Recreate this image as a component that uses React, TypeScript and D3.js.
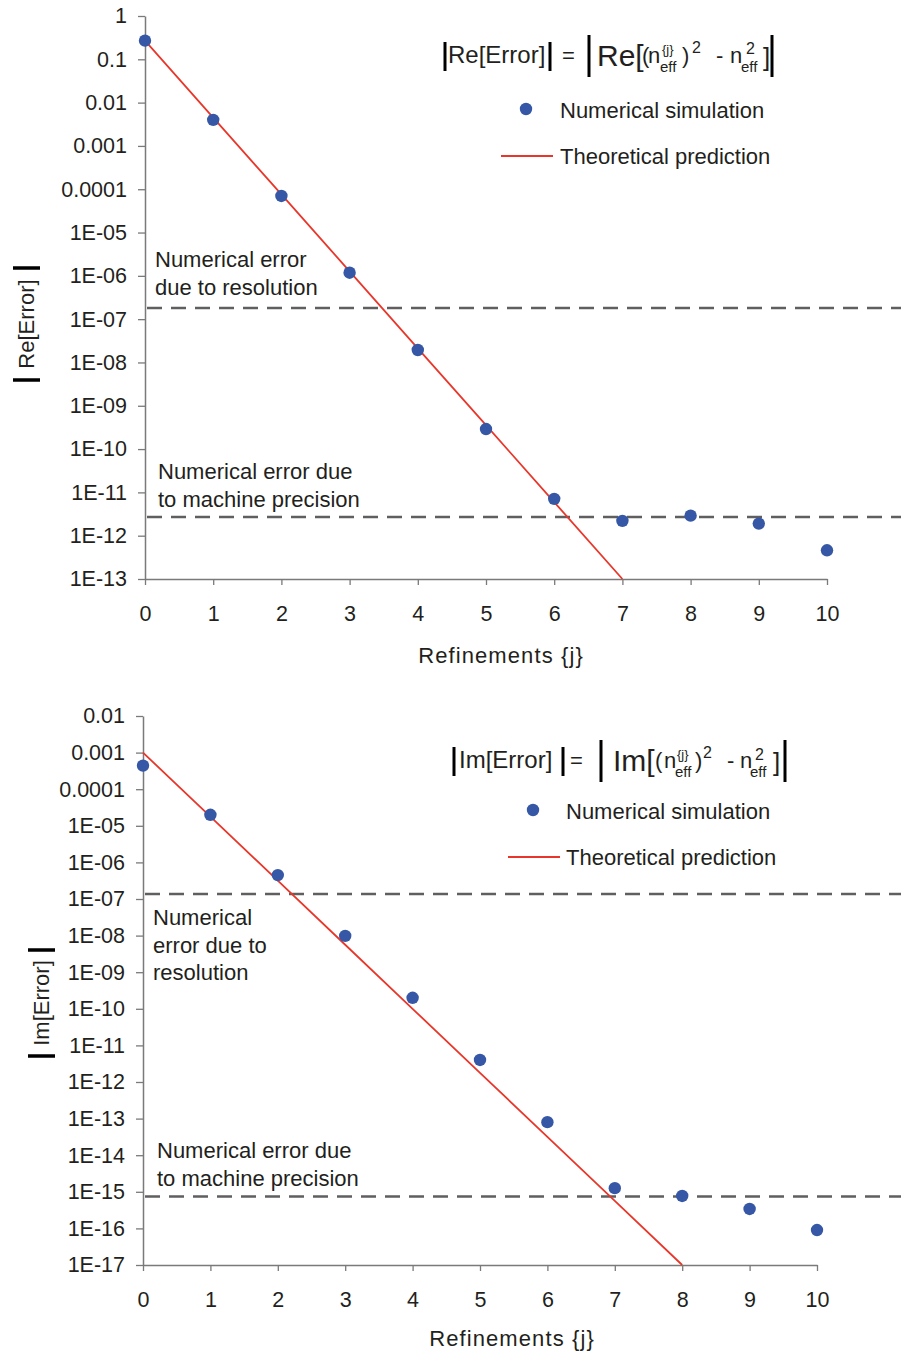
import React, { useEffect, useRef } from 'react';
import * as d3 from 'd3';

// refinement steps {j}
const refinements = [0, 1, 2, 3, 4, 5, 6, 7, 8, 9, 10];

// |Re[Error]| panel
const reSimulation = [0.27, 4e-3, 7e-5, 1.18e-6, 1.94e-8, 2.9e-10, 7.1e-12, 2.2e-12, 2.9e-12, 1.9e-12, 4.6e-13];
const reTheory = [0.27, 4.5e-3, 7.6e-5, 1.27e-6, 2.12e-8, 3.56e-10, 5.97e-12, 1e-13];
const reThresholds = [1.8e-7, 2.7e-12];
const reTicks = [1, 0.1, 0.01, 1e-3, 1e-4, 1e-5, 1e-6, 1e-7, 1e-8, 1e-9, 1e-10, 1e-11, 1e-12, 1e-13];
const reTickLabels = ['1', '0.1', '0.01', '0.001', '0.0001', '1E-05', '1E-06', '1E-07', '1E-08', '1E-09', '1E-10', '1E-11', '1E-12', '1E-13'];

// |Im[Error]| panel
const imSimulation = [4.4e-4, 2e-5, 4.5e-7, 9.8e-9, 2e-10, 4e-12, 8e-14, 1.26e-15, 7.7e-16, 3.4e-16, 9e-17];
const imTheory = [1e-3, 1.78e-5, 3.16e-7, 5.62e-9, 1e-10, 1.78e-12, 3.16e-14, 5.62e-16, 1e-17];
const imThresholds = [1.37e-7, 7.4e-16];
const imTicks = [1e-2, 1e-3, 1e-4, 1e-5, 1e-6, 1e-7, 1e-8, 1e-9, 1e-10, 1e-11, 1e-12, 1e-13, 1e-14, 1e-15, 1e-16, 1e-17];
const imTickLabels = ['0.01', '0.001', '0.0001', '1E-05', '1E-06', '1E-07', '1E-08', '1E-09', '1E-10', '1E-11', '1E-12', '1E-13', '1E-14', '1E-15', '1E-16', '1E-17'];

const FONT = '"Liberation Sans", Arial, sans-serif';
const INK = '#231f20';
const AXIS = '#7a7a7a';
const DOT = '#3557a5';
const RED = '#e8372a';
const DASH = '#5f5f5f';

// pieces of the legend formula: [text, x, y, size] and bars [x, y0, y1]
const reFormula = {
  texts: [
    ['Re[Error]', 448, 63, 24], ['=', 562, 63, 22], ['Re[', 597, 66, 30], ['(', 642, 63, 22],
    ['n', 648, 63, 22], ['eff', 660, 72, 15], ['{j}', 662, 54, 13], [')', 682, 63, 22],
    ['2', 692, 53, 16], ['-', 716, 63, 22], ['n', 730, 63, 22], ['eff', 741, 72, 15],
    ['2', 746, 54, 16], [']', 763, 66, 26],
  ],
  bars: [[445, 42, 71], [550, 42, 71], [589, 35, 77], [772, 35, 77]],
};
const imFormula = {
  texts: [
    ['Im[Error]', 459, 768, 24], ['=', 570, 768, 22], ['Im[', 613, 771, 30], ['(', 655, 768, 22],
    ['n', 664, 768, 22], ['eff', 675, 777, 15], ['{j}', 677, 759, 13], [')', 695, 768, 22],
    ['2', 703, 758, 16], ['-', 727, 768, 22], ['n', 740, 768, 22], ['eff', 750, 777, 15],
    ['2', 755, 760, 16], [']', 773, 771, 26],
  ],
  bars: [[454, 747, 776], [563, 747, 776], [601, 740, 782], [785, 740, 782]],
};

const panels = [
  {
    sim: reSimulation, theory: reTheory, thresholds: reThresholds,
    ticks: reTicks, tickLabels: reTickLabels,
    x0: 145, x1: 827, y0: 16, y1: 579,
    formula: reFormula,
    legend: { dotX: 526, dotY: 109, lineX0: 501, lineX1: 553, lineY: 156, textX: 560, simY: 118, thY: 164 },
    notes: [
      { x: 155, ys: [267, 295], lines: ['Numerical error', 'due to resolution'] },
      { x: 158, ys: [479, 507], lines: ['Numerical error due', 'to machine precision'] },
    ],
    yTitle: 'Re[Error]', yTitleX: 26, yTitleY: 324, yBars: [268, 380],
    xTitleX: 501, xTitleY: 663,
  },
  {
    sim: imSimulation, theory: imTheory, thresholds: imThresholds,
    ticks: imTicks, tickLabels: imTickLabels,
    x0: 143, x1: 817, y0: 716, y1: 1265,
    formula: imFormula,
    legend: { dotX: 533, dotY: 810, lineX0: 508, lineX1: 560, lineY: 857, textX: 566, simY: 819, thY: 865 },
    notes: [
      { x: 153, ys: [925, 953, 980], lines: ['Numerical', 'error due to', 'resolution'] },
      { x: 157, ys: [1158, 1186], lines: ['Numerical error due', 'to machine precision'] },
    ],
    yTitle: 'Im[Error]', yTitleX: 41, yTitleY: 1003, yBars: [950, 1056],
    xTitleX: 512, xTitleY: 1346,
  },
];

const App = () => {
  const svgRef = useRef(null);

  useEffect(() => {
    const svg = d3.select(svgRef.current);
    svg.selectAll('*').remove();
    panels.forEach(p => drawPanel(svg, p));
  }, []);

  function drawPanel(svg, p) {
    const x = d3.scaleLinear().domain([0, 10]).range([p.x0, p.x1]);
    const y = d3.scaleLog().domain([p.ticks[p.ticks.length - 1], p.ticks[0]]).range([p.y1, p.y0]);
    const g = svg.append('g').attr('font-family', FONT);

    // dashed threshold lines run from the axis to the page edge
    g.selectAll('.thr').data(p.thresholds).join('line')
      .attr('x1', p.x0 + 2).attr('x2', 901)
      .attr('y1', d => y(d)).attr('y2', d => y(d))
      .attr('stroke', DASH).attr('stroke-width', 2.5)
      .attr('stroke-dasharray', '15,9');

    // y axis
    const yAxis = d3.axisLeft(y).tickValues(p.ticks)
      .tickFormat((d, i) => p.tickLabels[i]).tickSize(7).tickSizeOuter(0).tickPadding(11);
    g.append('g').attr('transform', `translate(${p.x0},0)`).call(yAxis)
      .call(a => a.select('.domain').attr('stroke', AXIS).attr('stroke-width', 1.5))
      .call(a => a.selectAll('.tick line').attr('stroke', AXIS).attr('stroke-width', 1.3))
      .call(a => a.selectAll('text').attr('fill', INK).attr('font-size', 21.5).attr('font-family', FONT));

    // x axis
    const xAxis = d3.axisBottom(x).tickValues(refinements).tickSize(6).tickSizeOuter(0).tickPadding(21);
    g.append('g').attr('transform', `translate(0,${p.y1})`).call(xAxis)
      .call(a => a.select('.domain').attr('stroke', AXIS).attr('stroke-width', 1.5))
      .call(a => a.selectAll('.tick line').attr('stroke', AXIS).attr('stroke-width', 1.3))
      .call(a => a.selectAll('text').attr('fill', INK).attr('font-size', 21.5).attr('font-family', FONT));

    // theoretical prediction
    const line = d3.line().x((d, i) => x(refinements[i])).y(d => y(d));
    g.append('path').datum(p.theory).attr('d', line)
      .attr('fill', 'none').attr('stroke', RED).attr('stroke-width', 1.8);

    // numerical simulation
    g.selectAll('.dot').data(p.sim).join('circle')
      .attr('cx', (d, i) => x(refinements[i])).attr('cy', d => y(d))
      .attr('r', 6.2).attr('fill', DOT);

    // annotations
    p.notes.forEach(n => {
      n.lines.forEach((t, i) => {
        g.append('text').text(t).attr('x', n.x).attr('y', n.ys[i])
          .attr('font-size', 22).attr('fill', INK);
      });
    });

    // legend formula
    p.formula.texts.forEach(([t, tx, ty, s]) => {
      g.append('text').text(t).attr('x', tx).attr('y', ty)
        .attr('font-size', s).attr('fill', INK);
    });
    p.formula.bars.forEach(([bx, by0, by1]) => {
      g.append('line').attr('x1', bx).attr('x2', bx).attr('y1', by0).attr('y2', by1)
        .attr('stroke', '#000').attr('stroke-width', 3);
    });

    // legend entries
    const L = p.legend;
    g.append('circle').attr('cx', L.dotX).attr('cy', L.dotY).attr('r', 6.2).attr('fill', DOT);
    g.append('text').text('Numerical simulation').attr('x', L.textX).attr('y', L.simY)
      .attr('font-size', 22).attr('fill', INK);
    g.append('line').attr('x1', L.lineX0).attr('x2', L.lineX1).attr('y1', L.lineY).attr('y2', L.lineY)
      .attr('stroke', RED).attr('stroke-width', 1.8);
    g.append('text').text('Theoretical prediction').attr('x', L.textX).attr('y', L.thY)
      .attr('font-size', 22).attr('fill', INK);

    // axis titles
    g.append('text').text('Refinements {j}').attr('x', p.xTitleX).attr('y', p.xTitleY)
      .attr('text-anchor', 'middle').attr('font-size', 22).attr('letter-spacing', 1.1)
      .attr('fill', INK);
    g.append('text').text(p.yTitle)
      .attr('transform', `translate(${p.yTitleX + 8},${p.yTitleY}) rotate(-90)`)
      .attr('text-anchor', 'middle').attr('font-size', 22).attr('fill', INK);
    p.yBars.forEach(by => {
      g.append('line').attr('x1', p.yTitleX - 13).attr('x2', p.yTitleX + 14)
        .attr('y1', by).attr('y2', by).attr('stroke', '#000').attr('stroke-width', 3.5);
    });
  }

  return (
    <svg ref={svgRef} width={901} height={1354}
      style={{ position: 'absolute', left: 0, top: 0, background: '#fff' }}>
    </svg>
  );
};

export default App;
